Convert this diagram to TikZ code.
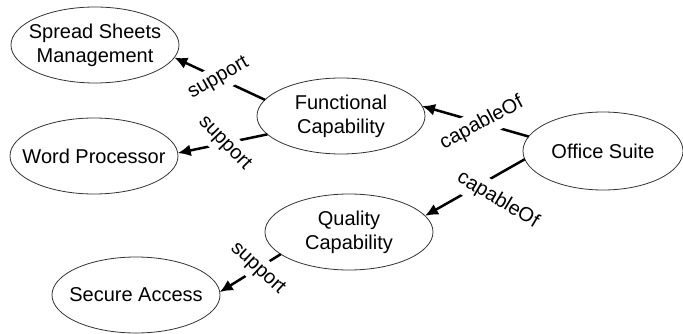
\documentclass[tikz,border=0pt]{standalone}
\usepackage{fontspec}
\setmainfont{Liberation Sans}
\usetikzlibrary{arrows.meta}
\usetikzlibrary{positioning, shapes.geometric}

\begin{document}
\begin{tikzpicture}[x=1pt, y=1pt, on grid,
    concept/.style={ellipse, draw=black!80, line width=0.8pt, inner xsep=-20pt, inner ysep=0pt, outer sep=0pt,
        minimum width=168pt, minimum height=76pt, align=center, font=\fontsize{20pt}{24pt}\selectfont},
    link/.style={line width=2.5pt, -{Latex[length=13pt,width=12pt]}},
    linklabel/.style={fill=white, inner sep=5pt, font=\fontsize{20pt}{24pt}\selectfont}]
    \useasboundingbox (0,0) rectangle (683,-334);
    \node[concept] (fc) at (341,-116) {Functional\\Capability};
    \node[concept, minimum width=160pt, minimum height=78pt, below right=35pt and 262pt of fc] (os) {Office Suite};
    \node[concept, above left=71pt and 246pt of fc] (ssm) {Spread Sheets\\Management};
    \node[concept, below left=40pt and 247pt of fc] (wp) {Word Processor};
    \node[concept, below right=116pt and 8pt of fc] (qc) {Quality\\Capability};
    \node[concept, below left=63pt and 213pt of qc] (sa) {Secure Access};

    \draw[link] (fc.168) -- node[linklabel, pos=0.51, rotate=30] {support} (ssm.-9);
    \draw[link] (fc.194) -- node[linklabel, pos=0.48, rotate=-46] {support} (wp.2);
    \draw[link] (os.169) -- node[linklabel, pos=0.44, rotate=28] {capableOf} (fc.7);
    \draw[link] (os.186) -- node[linklabel, pos=0.49, xshift=22pt, yshift=-13pt, rotate=-31] {capableOf} (qc.12);
    \draw[link] (qc.198) -- node[linklabel, pos=0.38, rotate=-43] {support} (sa.2);
\end{tikzpicture}
\end{document}
